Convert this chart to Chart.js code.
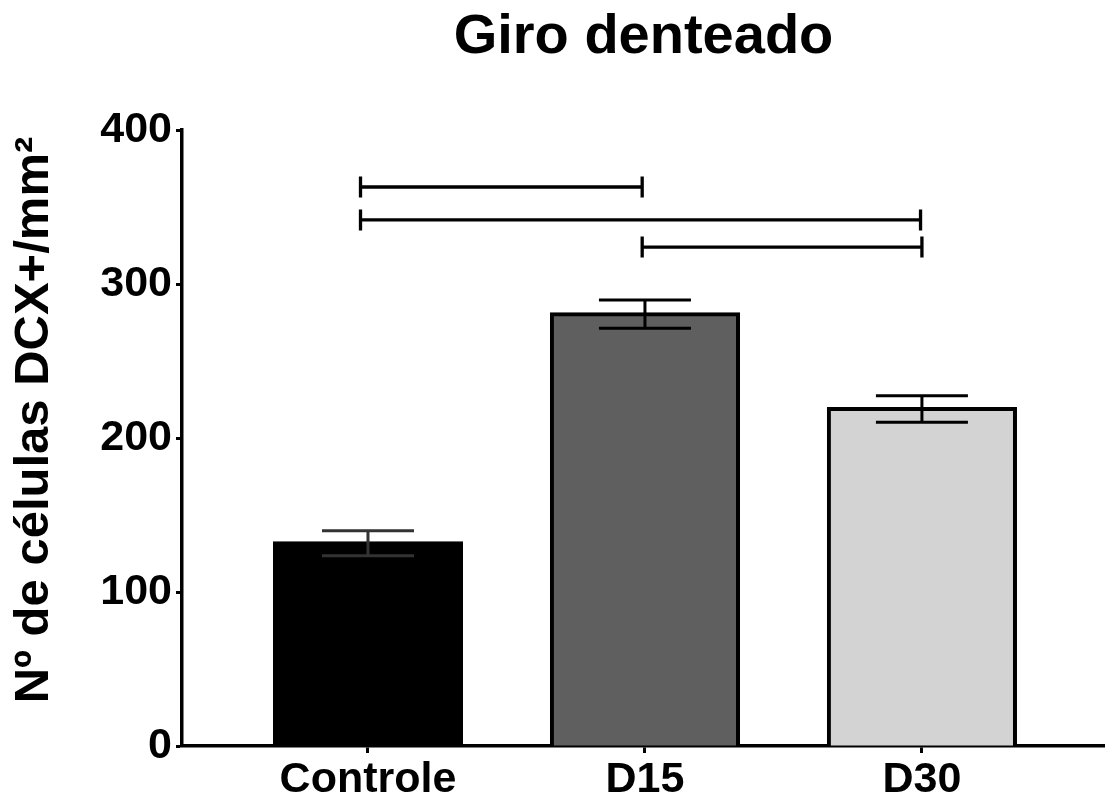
<!DOCTYPE html>
<html><head><meta charset="utf-8">
<script src="https://cdn.jsdelivr.net/npm/chart.js@4/dist/chart.umd.min.js"></script>
<style>html,body{margin:0;padding:0;background:#fff}#wrap{width:1105px;height:801px}</style>
</head><body><div id="wrap"><canvas id="c" width="1105" height="801"></canvas></div>
<script>
const categories = ['Controle', 'D15', 'D30'];
const means = [131.6, 280.4, 218.8];
const sem = [8.1, 9.2, 8.6];
const barColors = ['#000000', '#5f5f5f', '#d3d3d3'];
const errColors = ['#333333', '#000000', '#000000'];
const yTicks = [0, 100, 200, 300, 400];
const bracketFrom = [-0.027, -0.027, 0.99];
const bracketTo = [0.99, 1.995, 2.0];
const bracketY = [363, 341.6, 324];
const yTitle = 'Nº de células DCX+/mm²';

const FONT = "'Liberation Sans', Arial, sans-serif";

const overlay = {
  id: 'overlay',
  afterDatasetsDraw(chart) {
    const ctx = chart.ctx, x = chart.scales.x, y = chart.scales.y;
    ctx.save();
    ctx.lineCap = 'butt';
    means.forEach((m, i) => {
      const cx = x.getPixelForValue(i);
      const t = y.getPixelForValue(m + sem[i]);
      const b = y.getPixelForValue(m - sem[i]);
      const half = 46;
      ctx.strokeStyle = errColors[i];
      ctx.lineWidth = 3;
      ctx.beginPath();
      ctx.moveTo(cx, t); ctx.lineTo(cx, b);
      ctx.moveTo(cx - half, t); ctx.lineTo(cx + half, t);
      ctx.moveTo(cx - half, b); ctx.lineTo(cx + half, b);
      ctx.stroke();
    });
    ctx.strokeStyle = '#000';
    ctx.lineWidth = 3.3;
    bracketY.forEach((v, i) => {
      const py = y.getPixelForValue(v);
      const x1 = x.getPixelForValue(bracketFrom[i]);
      const x2 = x.getPixelForValue(bracketTo[i]);
      ctx.beginPath();
      ctx.moveTo(x1, py); ctx.lineTo(x2, py);
      ctx.moveTo(x1, py - 10.5); ctx.lineTo(x1, py + 10.5);
      ctx.moveTo(x2, py - 10.5); ctx.lineTo(x2, py + 10.5);
      ctx.stroke();
    });
    ctx.restore();
  },
  afterDraw(chart) {
    const ctx = chart.ctx, ca = chart.chartArea;
    ctx.save();
    ctx.translate(34, (ca.top + ca.bottom) / 2 - 18);
    ctx.rotate(-Math.PI / 2);
    ctx.textAlign = 'center';
    ctx.textBaseline = 'middle';
    ctx.fillStyle = '#000';
    ctx.font = "bold 49px " + FONT;
    ctx.fillText(yTitle, 0, 0);
    ctx.restore();
  }
};

new Chart(document.getElementById('c'), {
  type: 'bar',
  data: {
    datasets: [{
      data: means.map((v, i) => ({ x: i, y: v })),
      backgroundColor: barColors,
      borderColor: '#000000',
      borderWidth: 4,
      borderSkipped: 'start',
      inflateAmount: 2,
      barPercentage: 0.672,
      categoryPercentage: 1.0
    }]
  },
  options: {
    responsive: false,
    animation: false,
    devicePixelRatio: 1,
    layout: { padding: { left: 0, right: 0, top: 0, bottom: 0 } },
    plugins: {
      legend: { display: false },
      tooltip: { enabled: false },
      title: {
        display: true,
        text: 'Giro denteado',
        fullSize: false,
        color: '#000',
        font: { family: FONT, size: 56, weight: 'bold', lineHeight: 1.2 },
        padding: { top: 4, bottom: 58.8 }
      }
    },
    scales: {
      x: {
        type: 'linear',
        min: -0.6715,
        max: 2.661,
        offset: false,
        afterBuildTicks: s => { s.ticks = categories.map((_, i) => ({ value: i })); },
        afterFit: s => { s.height = 55; },
        grid: { display: true, offset: false, drawOnChartArea: false, drawTicks: true, tickLength: 7, tickWidth: 3, tickColor: '#000', color: '#000' },
        border: { display: true, color: '#000', width: 3.5 },
        ticks: {
          color: '#000',
          padding: 1,
          maxRotation: 0,
          autoSkip: false,
          font: { family: FONT, size: 43, weight: 'bold' },
          callback: v => categories[v]
        }
      },
      y: {
        min: 0,
        max: 400,
        afterBuildTicks: s => { s.ticks = yTicks.map(v => ({ value: v })); },
        afterFit: s => { s.width = 182; },
        grid: { display: true, drawOnChartArea: false, drawTicks: true, tickLength: 6, tickWidth: 3, tickColor: '#000', color: '#000' },
        border: { display: true, color: '#000', width: 3.5 },
        ticks: {
          color: '#000',
          padding: 4,
          font: { family: FONT, size: 43, weight: 'bold' }
        },
        title: { display: false }
      }
    }
  },
  plugins: [overlay]
});
</script>
</body></html>
